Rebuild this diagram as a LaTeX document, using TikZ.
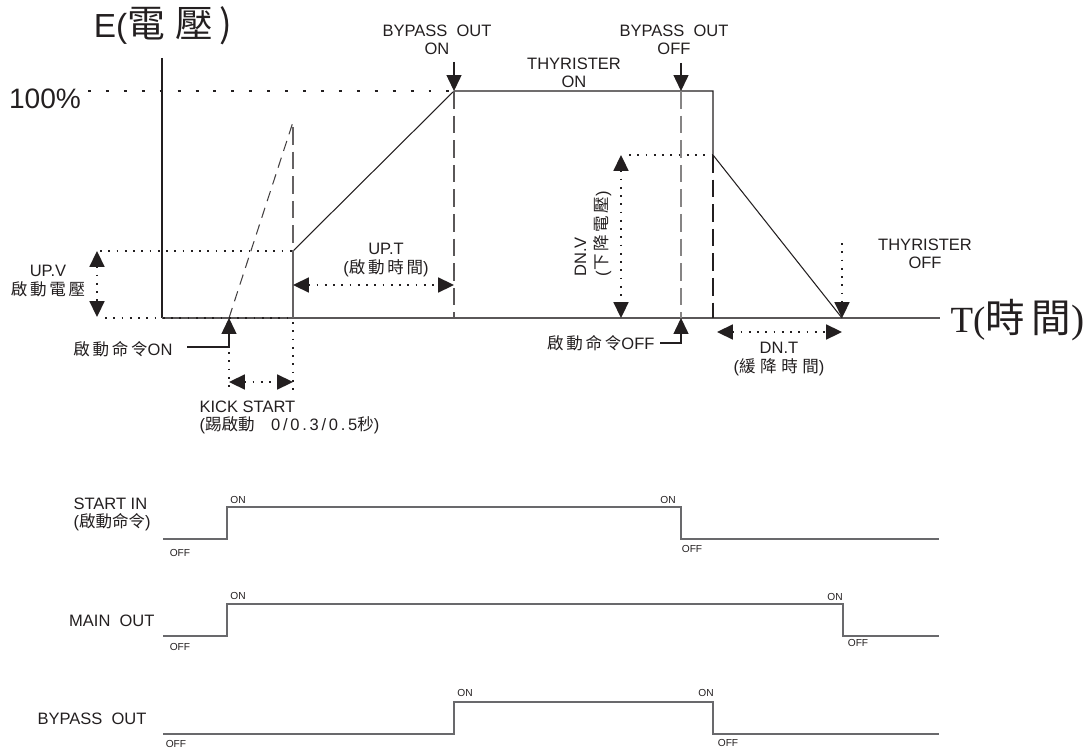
\documentclass[tikz,border=0pt]{standalone}
\usepackage{fontspec}
\setmainfont{Liberation Sans}
\newfontfamily\cjk{Noto Sans CJK TC}
\newfontfamily\serif{Liberation Serif}
\usetikzlibrary{arrows.meta}
\definecolor{ink}{RGB}{35,31,32}
\definecolor{wire}{RGB}{105,105,108}
\tikzset{
    tip/.style={-{Triangle[width=8.5pt,length=9pt]}},
    tips/.style={{Triangle[width=8.5pt,length=9pt]}-{Triangle[width=8.5pt,length=9pt]}},
    dots/.style={line width=1pt,dash pattern=on 1pt off 3.7pt},
    bigdots/.style={line width=1.7pt,dash pattern=on 1.7pt off 8.5pt},
    longdash/.style={dash pattern=on 10pt off 4pt},
    onoff/.style={font=\fontsize{5.8}{6}\selectfont,text=ink,inner sep=0pt}
}
\begin{document}
\begin{tikzpicture}[x=0.02cm,y=-0.02cm,line width=0.6pt,draw=ink]
        \useasboundingbox (0,0) rectangle (1091,753);
        % points of the voltage curve
        \coordinate (o)    at (162,318);
        \coordinate (ytop) at (162,58);
        \coordinate (tend) at (940,318);
        \coordinate (k0)   at (229,318);
        \coordinate (k1)   at (293,122);
        \coordinate (k2)   at (293,127);
        \coordinate (u0)   at (293,318);
        \coordinate (u1)   at (293,251);
        \coordinate (f)    at (454,91);
        \coordinate (f0)   at (454,318);
        \coordinate (b1)   at (681,91);
        \coordinate (b0)   at (681,318);
        \coordinate (g)    at (713,91);
        \coordinate (d)    at (713,155);
        \coordinate (d0)   at (713,318);
        \coordinate (z)    at (842,318);
        % free ends of the arrows and guides
        \coordinate (bonA)  at (454,62);
        \coordinate (boffA) at (681,63);
        \coordinate (pctA)  at (88,91);
        \coordinate (baseA) at (105,318);
        \coordinate (upvL)  at (100,251);
        \coordinate (upvA)  at (97,251);
        \coordinate (upvB)  at (97,317);
        \coordinate (uptA)  at (293,285);
        \coordinate (uptB)  at (454,285);
        \coordinate (kA)    at (229,382);
        \coordinate (kB)    at (293,382);
        \coordinate (kd0)   at (229,352);
        \coordinate (kd1)   at (229,390);
        \coordinate (ud0)   at (293,322);
        \coordinate (ud1)   at (293,390);
        \coordinate (dnvL)  at (629,155);
        \coordinate (dnvA)  at (621,155);
        \coordinate (dnvB)  at (621,318);
        \coordinate (dntA)  at (717,332);
        \coordinate (dntB)  at (842,332);
        \coordinate (thoffA) at (842,243);
        \coordinate (conA)  at (187,347);
        \coordinate (coffA) at (660,343);

        \begin{scope}[every node/.style={text=ink,inner sep=0pt,align=center,font=\fontsize{9.4}{10.3}\selectfont}]
            \node (eaxis) at (163,26) {\fontsize{19}{22}\selectfont E(\cjk\fontsize{21.5}{22}\selectfont 電\;壓\,)};
            \node (pct) at (45,99) {\fontsize{16}{18}\selectfont 100\%};
            \node (taxis) [anchor=west] at (950,320) {\serif\fontsize{21}{24}\selectfont T(\cjk\fontsize{22.5}{24}\selectfont 時\,間\serif)};
            \node (bon)   at (437,40)  {BYPASS\ \ OUT\\ON};
            \node (boff)  at (674,40)  {BYPASS\ \ OUT\\OFF};
            \node (thon)  at (574,73)  {THYRISTER\\ON};
            \node (thoff) at (925,254) {THYRISTER\\OFF};
            \node (upv)   at (48,281)  {UP.V\\{\cjk 啟\,動\,電\,壓}};
            \node (upt)   at (386,260) {UP.T\\({\cjk 啟\,動\,時\,間})};
            \node (dnt)   at (779,359) {DN.T\\({\cjk 緩\;降\;時\;間})};
            \node (kick) [anchor=west,align=left] at (199,417) {KICK START\\({\cjk 踢啟動}\quad 0\,/\,0\,.\,3\,/\,0\,.\,5{\cjk 秒})};
            \node (cmdon) [anchor=east] at (173,349) {{\cjk 啟\,動\,命\,令}ON};
            \node (cmdoff) [anchor=east] at (655,343) {{\cjk 啟\,動\,命\,令}OFF};
            \node (dnv) [anchor=west,align=left,rotate=90] at (593,277) {DN.V\\[2pt]({\cjk 下\,降\,電\,壓})};
            \node (startin) [anchor=west,align=left] at (73,514) {START IN\\({\cjk 啟動命令})};
            \node (mainout) [anchor=east] at (155,621) {MAIN\ \ OUT};
            \node (bypassout) [anchor=east] at (147,719) {BYPASS\ \ OUT};
        \end{scope}

        % axes and voltage curve
        \draw (ytop) -- (o);
        \draw[ink!75,line width=0.8pt] (o) -- (tend);
        \draw (u1) -- (f) -- (g) -- (d) -- (z);
        \draw[ink!85,dash pattern=on 6pt off 4pt] (k0) -- (k1);
        \draw[ink!70,longdash] (k2) -- (u1);
        \draw[ink!70] (u1) -- (u0);
        \draw[ink!75,longdash] (f) -- (f0);
        \draw[ink!55,longdash] (b1) -- (b0);
        \draw[longdash] (d) -- (d0);

        % dotted guides
        \draw[bigdots] (pctA) -- (f);
        \draw[dots] (baseA) -- (u0);
        \draw[dots] (upvL) -- (u1);
        \draw[dots] (dnvL) -- (d);
        \draw[dots] (kd0) -- (kd1);
        \draw[dots] (ud0) -- (ud1);

        % arrows
        \begin{scope}[every edge/.style={draw,dots,tips}]
            \path
                (upvA) edge (upvB)
                (uptA) edge (uptB)
                (kA) edge (kB)
                (dnvA) edge (dnvB)
                (dntA) edge (dntB);
        \end{scope}
        \draw[dots,tip] (thoffA) -- (z);
        \draw[tip] (bonA) -- (f);
        \draw[tip] (boffA) -- (b1);
        \draw[tip] (conA) -| (k0);
        \draw[tip] (coffA) -| (b0);

        % timing signals
        \begin{scope}[draw=wire,line width=0.9pt]
            \draw (163,539) -- (227,539) -- (227,507) -- (681,507) -- (681,539) -- (939,539);
            \draw (163,636) -- (227,636) -- (227,604) -- (843,604) -- (843,636) -- (939,636);
            \draw (163,734) -- (454,734) -- (454,702) -- (713,702) -- (713,734) -- (939,734);
        \end{scope}
        \node (s1on)  [onoff] at (238,500) {ON};
        \node (s1off) [onoff] at (180,553) {OFF};
        \node (s1on2) [onoff] at (668,500) {ON};
        \node (s1off2)[onoff] at (692,549) {OFF};
        \node (s2on)  [onoff] at (238,596) {ON};
        \node (s2off) [onoff] at (180,647) {OFF};
        \node (s2on2) [onoff] at (835,597) {ON};
        \node (s2off2)[onoff] at (858,643) {OFF};
        \node (s3on)  [onoff] at (465,693) {ON};
        \node (s3off) [onoff] at (176,744) {OFF};
        \node (s3on2) [onoff] at (706,693) {ON};
        \node (s3off2)[onoff] at (728,743) {OFF};
    \end{tikzpicture}
\end{document}
